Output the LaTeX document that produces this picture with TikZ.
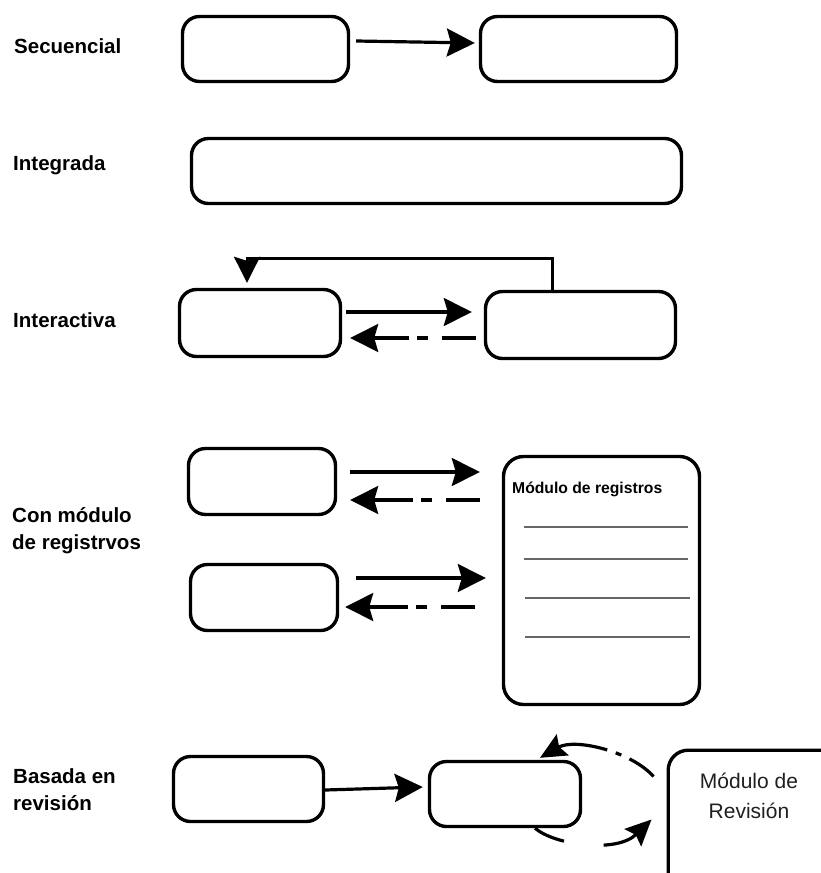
\documentclass[tikz,border=0pt]{standalone}
\usepackage{fontspec}
\setmainfont{Liberation Sans}
\usetikzlibrary{arrows.meta}

\begin{document}
\begin{tikzpicture}[x=1pt,y=-1pt,
  box/.style={draw, line width=3.4pt, rounded corners=17pt, inner sep=0pt},
  tag/.style={font=\fontsize{20.5}{27.5}\selectfont\bfseries, align=left, inner sep=0pt},
  flow/.style={line width=3.2pt, -{Stealth[length=28pt,width=28pt,inset=4pt]}},
  back/.style={flow, dash pattern=on 34pt off 14pt on 11pt off 8pt on 400pt},
  loop/.style={line width=2.7pt, -{Stealth[length=26pt,width=26pt,inset=4pt]}},
  curl/.style={line width=3.2pt, -{Stealth[length=26pt,width=24pt,inset=4pt]}},
  rule/.style={draw=black!60, line width=1.2pt}
]
\useasboundingbox (0,0) rectangle (821,873);
\clip (0,0) rectangle (821,873);

% row labels (multi-line nodes are anchored at the last baseline)
\node[tag, anchor=base west] (l1) at (14,53) {Secuencial};
\node[tag, anchor=base west] (l2) at (13,170) {Integrada};
\node[tag, anchor=base west] (l3) at (13,327) {Interactiva};
\node[tag, anchor=base west] (l4) at (12,549.5) {Con módulo\\de registrvos};
\node[tag, anchor=base west] (l5) at (13,810.5) {Basada en\\revisión};

% secuencial
\node[box, minimum width=166pt, minimum height=65pt] (s1) at (265.5,49) {};
\node[box, minimum width=196pt, minimum height=65pt] (s2) at (578.5,49) {};
\draw[flow] ([shift={(6,-8)}]s1.east) -- ([shift={(-4,-6)}]s2.west);

% integrada
\node[box, minimum width=490pt, minimum height=65pt] (i1) at (436.5,171) {};

% interactiva
\node[box, minimum width=161pt, minimum height=67pt] (a1) at (260,323) {};
\node[box, minimum width=190pt, minimum height=67pt] (a2) at (580.5,325) {};
\draw[flow] ([shift={(4,-11)}]a1.east) -- ([shift={(-12,-13)}]a2.west);
\draw[back] ([shift={(-8,13)}]a2.west) -- ([shift={(8,15)}]a1.east);
\draw[loop] ([xshift=-28pt]a2.north) -- ++(0,-31) -| ([shift={(-13,-5)}]a1.north);

% con modulo de registros
\node[box, minimum width=147pt, minimum height=66pt] (b1) at (262,481.5) {};
\node[box, minimum width=147pt, minimum height=66pt] (b2) at (264,597.5) {};
\node[box, rounded corners=20pt, minimum width=196pt, minimum height=248pt] (r) at (601.5,580.5) {};
\node[font=\fontsize{15.7}{18}\selectfont\bfseries, anchor=base west, inner sep=0pt] (rt) at (512,493) {Módulo de registros};
\draw[rule] (524,527) -- (688,527);
\draw[rule] (524,559) -- (688,559);
\draw[rule] (525,598) -- (690,598);
\draw[rule] (525,637) -- (690,637);
\draw[flow] ([shift={(13,-9.5)}]b1.east) -- ([shift={(-22,-108.5)}]r.west);
\draw[back] ([shift={(-22,-80.5)}]r.west) -- ([shift={(13,18.5)}]b1.east);
\draw[flow] ([shift={(17,-19.5)}]b2.east) -- ([shift={(-16,-2.5)}]r.west);
\draw[back] ([shift={(-27,26.5)}]r.west) -- ([shift={(6,9.5)}]b2.east);

% basada en revision
\node[box, minimum width=150pt, minimum height=65pt] (c1) at (248.5,789) {};
\node[box, minimum width=151pt, minimum height=65pt] (c2) at (505,794) {};
\node[box, rounded corners=20pt, anchor=north west, minimum width=200pt, minimum height=180pt] (rev) at (666.5,748.5) {};
\node[font=\fontsize{21}{30}\selectfont, text=black!88, align=center, inner sep=0pt, anchor=base] (revt) at (749,818) {Módulo de\\Revisión};
\draw[flow] ([shift={(0,1)}]c1.east) -- ([shift={(-5,-7)}]c2.west);
\draw[curl, dash pattern=on 30pt off 9pt on 6pt off 9pt on 300pt]
  ([shift={(-13,28)}]rev.north west) .. controls +(-22,-25) and +(35,-20) .. ([shift={(35,-2)}]c2.north);
\draw[curl, dash pattern=on 32pt off 40pt on 300pt]
  ([shift={(30,0)}]c2.south) .. controls +(20,17) and +(-35,34) .. ([shift={(-15,71)}]rev.north west);
\end{tikzpicture}
\end{document}
